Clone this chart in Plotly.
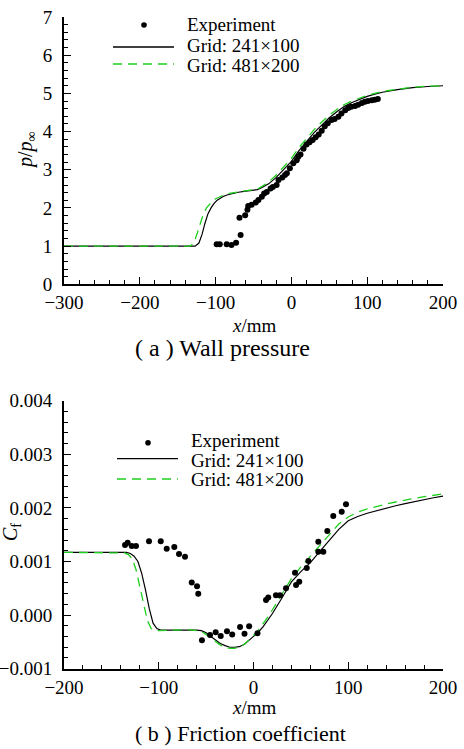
import plotly.graph_objects as go

W, H = 464, 749

# ---------------- (a) wall pressure ----------------
pa_exp_x = [-98.6, -94.5, -85.4, -79, -73, -67, -68.5, -61, -58, -57, -52.5, -47, -43.5, -39, -36,
            -32.5, -27.5, -24.5, -19.5, -17, -12, -8.5, -6, -2, 2.5, 7, 9, 12, 16, 20, 24, 28, 32,
            36, 40, 44, 48, 53, 57, 62, 66, 71, 75, 79, 84, 88, 93, 97, 101, 106, 110, 114]
pa_exp_y = [1.05, 1.05, 1.05, 1.03, 1.09, 1.29, 1.74, 1.81, 1.95, 2.05, 2.08, 2.14, 2.21, 2.29, 2.38,
            2.42, 2.51, 2.55, 2.60, 2.73, 2.80, 2.86, 2.91, 3.04, 3.17, 3.25, 3.34, 3.40, 3.55, 3.66,
            3.72, 3.78, 3.85, 3.92, 4.02, 4.14, 4.22, 4.30, 4.33, 4.39, 4.47, 4.56, 4.62, 4.65, 4.67,
            4.70, 4.75, 4.78, 4.80, 4.82, 4.83, 4.85]

pa_g1_x = [-300, -130, -127, -122, -118, -114, -110, -106, -102, -98, -94, -90, -85, -80, -70, -60,
           -50, -45, -40, -30, -20, -10, 0, 10, 20, 30, 40, 50, 60, 70, 80, 90, 100, 110, 120, 140,
           160, 180, 200]
pa_g1_y = [1, 1, 1.0, 1.08, 1.3, 1.6, 1.85, 2.0, 2.12, 2.2, 2.26, 2.3, 2.34, 2.37, 2.41, 2.44,
           2.47, 2.48, 2.52, 2.63, 2.8, 3.0, 3.22, 3.5, 3.75, 3.97, 4.17, 4.36, 4.52, 4.66, 4.76,
           4.85, 4.92, 4.98, 5.03, 5.1, 5.15, 5.18, 5.2]

pa_g2_x = [-300, -135, -132, -128, -124, -120, -116, -112, -108, -104, -100, -95, -90, -85, -80,
           -70, -60, -50, -45, -40, -30, -20, -10, 0, 10, 20, 30, 40, 50, 60, 70, 80, 90, 100, 110,
           120, 140, 160, 180, 200]
pa_g2_y = [1, 1, 1.02, 1.12, 1.35, 1.62, 1.85, 2.0, 2.1, 2.18, 2.24, 2.29, 2.33, 2.36, 2.39, 2.42,
           2.45, 2.47, 2.49, 2.55, 2.68, 2.86, 3.07, 3.3, 3.58, 3.83, 4.05, 4.25, 4.43, 4.58, 4.71,
           4.8, 4.88, 4.95, 5.0, 5.05, 5.11, 5.16, 5.19, 5.2]

# ---------------- (b) friction coefficient ----------------
cf_exp_x = [-135.6, -132.8, -128.5, -124, -110.3, -97.9, -91.6, -83.6, -78.6, -72.3, -65.2, -59.6,
            -58.3, -54.4, -45.9, -39.9, -34.6, -28, -22.5, -14.2, -9.5, -4.6, 4.2, 13.2, 15.6, 23.7,
            28, 34.3, 43.8, 44.9, 48.3, 56.2, 57.9, 68.4, 68.4, 73.7, 77.9, 84.2, 93.1, 97.6]
cf_exp_y = [1.31, 1.35, 1.29, 1.29, 1.38, 1.38, 1.24, 1.27, 1.14, 1.09, 0.61, 0.54, 0.40, -0.47,
            -0.37, -0.32, -0.39, -0.30, -0.36, -0.22, -0.35, -0.21, -0.34, 0.28, 0.33, 0.37, 0.37,
            0.50, 0.79, 0.56, 0.62, 0.88, 1.01, 1.37, 1.18, 1.18, 1.57, 1.85, 1.93, 2.07]

cf_g1_x = [-200, -140, -134, -130, -126, -122, -118, -114, -110, -106, -102, -98, -90, -80, -70, -60,
           -55, -50, -45, -40, -35, -30, -25, -20, -15, -10, -5, 0, 5, 10, 15, 20, 30, 40, 50, 60,
           70, 80, 90, 100, 110, 120, 130, 140, 150, 160, 170, 180, 190, 200]
cf_g1_y = [1.17, 1.17, 1.17, 1.15, 1.10, 1.00, 0.78, 0.47, 0.12, -0.15, -0.25, -0.28, -0.28, -0.27,
           -0.27, -0.28, -0.29, -0.33, -0.40, -0.47, -0.53, -0.57, -0.60, -0.60, -0.59, -0.55, -0.47,
           -0.40, -0.32, -0.22, -0.10, 0.03, 0.32, 0.62, 0.81, 0.98, 1.19, 1.40, 1.60, 1.76, 1.84,
           1.90, 1.95, 2.00, 2.04, 2.08, 2.12, 2.16, 2.19, 2.22]

cf_g2_x = [-200, -140, -136, -132, -128, -124, -120, -116, -112, -108, -104, -100, -90, -80, -70,
           -60, -55, -50, -45, -40, -35, -30, -25, -20, -15, -10, -5, 0, 5, 10, 15, 20, 30, 40, 50,
           60, 70, 80, 90, 100, 110, 120, 130, 140, 150, 160, 170, 180, 190, 200]
cf_g2_y = [1.17, 1.17, 1.16, 1.13, 1.05, 0.85, 0.55, 0.2, -0.1, -0.25, -0.29, -0.29, -0.28, -0.27,
           -0.27, -0.29, -0.31, -0.36, -0.43, -0.5, -0.56, -0.6, -0.62, -0.62, -0.6, -0.55, -0.47,
           -0.38, -0.28, -0.17, -0.04, 0.1, 0.4, 0.68, 0.9, 1.1, 1.32, 1.52, 1.7, 1.83, 1.92, 1.98,
           2.03, 2.07, 2.11, 2.15, 2.18, 2.21, 2.24, 2.26]

legend_names = ["Experiment", "Grid: 241\u00d7100", "Grid: 481\u00d7200"]
captions = ["( a ) Wall pressure", "( b ) Friction coefficient"]
x_title = "<i>x</i>/mm"
y_titles = ["<i>p</i>/<i>p</i><sub>\u221e</sub>", "<i>C</i><sub>f</sub>"]

GREEN = "#1ecf1e"
FONT = "Liberation Serif"

scale = 1e-3
fig = go.Figure()

# panel a
fig.add_trace(go.Scatter(x=pa_g1_x, y=pa_g1_y, mode="lines", line=dict(color="black", width=1.2),
                         xaxis="x", yaxis="y", showlegend=False))
fig.add_trace(go.Scatter(x=pa_g2_x, y=pa_g2_y, mode="lines",
                         line=dict(color=GREEN, width=1.3, dash="9px,6px"),
                         xaxis="x", yaxis="y", showlegend=False))
fig.add_trace(go.Scatter(x=pa_exp_x, y=pa_exp_y, mode="markers",
                         marker=dict(color="black", size=6), xaxis="x", yaxis="y", showlegend=False))
# panel b
fig.add_trace(go.Scatter(x=cf_g1_x, y=[v * scale for v in cf_g1_y], mode="lines",
                         line=dict(color="black", width=1.2), xaxis="x2", yaxis="y2", showlegend=False))
fig.add_trace(go.Scatter(x=cf_g2_x, y=[v * scale for v in cf_g2_y], mode="lines",
                         line=dict(color=GREEN, width=1.3, dash="9px,6px"),
                         xaxis="x2", yaxis="y2", showlegend=False))
fig.add_trace(go.Scatter(x=cf_exp_x, y=[v * scale for v in cf_exp_y], mode="markers",
                         marker=dict(color="black", size=6), xaxis="x2", yaxis="y2", showlegend=False))

def px2x(p):
    return p / W

def py2y(p):
    return 1 - p / H

axis_common = dict(showline=True, linewidth=2, linecolor="black", showgrid=False, zeroline=False,
                   ticks="inside", ticklen=7, tickwidth=1.3, tickcolor="black",
                   tickfont=dict(family=FONT, size=19, color="black"), automargin=False,
                   minor=dict(ticks="inside", ticklen=4, tickwidth=1, tickcolor="black", showgrid=False),
                   mirror=False)

xdom = [px2x(64), px2x(443)]
fig.update_layout(
    width=W, height=H, margin=dict(l=0, r=0, t=0, b=0),
    paper_bgcolor="white", plot_bgcolor="white", showlegend=False,
    font=dict(family=FONT, color="black"),
    xaxis=dict(axis_common, domain=xdom, range=[-300, 200], dtick=100, tick0=0,
               minor=dict(axis_common["minor"], dtick=20), anchor="y"),
    yaxis=dict(axis_common, domain=[py2y(284.3), py2y(17)], range=[0, 7], dtick=1,
               minor=dict(axis_common["minor"], dtick=0.2), anchor="x", ticklabelstandoff=6),
    xaxis2=dict(axis_common, domain=xdom, range=[-200, 200], dtick=100, tick0=0,
                minor=dict(axis_common["minor"], dtick=20), anchor="y2"),
    yaxis2=dict(axis_common, domain=[py2y(668.7), py2y(400.7)], range=[-0.001, 0.004], dtick=0.001,
                tickformat=".3f", minor=dict(axis_common["minor"], dtick=0.0002), anchor="x2",
                ticklabelstandoff=6),
)

# axis titles
for ty in [325, 707]:
    fig.add_annotation(xref="paper", yref="paper", x=px2x(253.5), y=py2y(ty), text=x_title,
                       showarrow=False, xanchor="center", yanchor="middle",
                       font=dict(family=FONT, size=19, color="black"))
for t, (tx, ty) in zip(y_titles, [(27, 150), (11, 532)]):
    fig.add_annotation(xref="paper", yref="paper", x=px2x(tx), y=py2y(ty), text=t, textangle=-90,
                       showarrow=False, xanchor="center", yanchor="middle",
                       font=dict(family=FONT, size=20, color="black"))

# manual legends (symbol + text)
def add_legend(mk, ln1, ln2, tx, rows):
    mx, my = mk
    fig.add_shape(type="circle", xref="paper", yref="paper",
                  x0=px2x(mx - 2.8), x1=px2x(mx + 2.8), y0=py2y(my + 2.8), y1=py2y(my - 2.8),
                  fillcolor="black", line=dict(color="black", width=0))
    fig.add_shape(type="line", xref="paper", yref="paper", x0=px2x(ln1[0]), x1=px2x(ln1[1]),
                  y0=py2y(ln1[2]), y1=py2y(ln1[2]), line=dict(color="black", width=1.3))
    fig.add_shape(type="line", xref="paper", yref="paper", x0=px2x(ln2[0]), x1=px2x(ln2[1]),
                  y0=py2y(ln2[2]), y1=py2y(ln2[2]), line=dict(color=GREEN, width=1.3, dash="9px,6px"))
    for name, ry in zip(legend_names, rows):
        fig.add_annotation(xref="paper", yref="paper", x=px2x(tx), y=py2y(ry), text=name,
                           showarrow=False, xanchor="left", yanchor="middle",
                           font=dict(family=FONT, size=19, color="black"))

add_legend((144, 25), (113, 174, 47), (113, 174, 64), 185, [25, 45, 65])
add_legend((148, 442.7), (117, 178, 458.7), (117, 178, 479), 189, [441, 460, 479])

for cap, cy, fs in zip(captions, [348, 733], [24, 22]):
    fig.add_annotation(xref="paper", yref="paper", x=px2x(133), y=py2y(cy), text=cap,
                       showarrow=False, xanchor="left", yanchor="middle",
                       font=dict(family=FONT, size=fs, color="black"))

fig.write_html("out.html")
